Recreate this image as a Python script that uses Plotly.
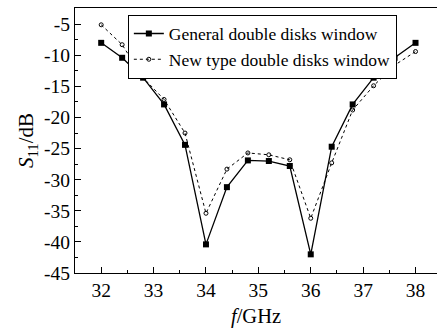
import plotly.graph_objects as go

freq = [32.0, 32.4, 32.8, 33.2, 33.6, 34.0, 34.4, 34.8, 35.2, 35.6, 36.0, 36.4, 36.8, 37.2, 37.6, 38.0]
general = [-8.0, -10.4, -13.6, -17.9, -24.4, -40.4, -31.2, -26.9, -27.0, -27.8, -42.0, -24.7, -17.9, -13.6, -10.4, -8.0]
new_type = [-5.1, -8.3, -13.6, -17.1, -22.5, -35.4, -28.3, -25.7, -26.0, -26.8, -36.2, -27.3, -18.8, -14.9, -11.6, -9.4]

x_ticks = [32, 33, 34, 35, 36, 37, 38]
y_ticks = [-5, -10, -15, -20, -25, -30, -35, -40, -45]
y_ticktext = ["-5", "-10", "-15", "-20", "-25", "-30", "-35", "-40", "-45"]

font = "Liberation Serif, Times New Roman, serif"

fig = go.Figure()
fig.add_trace(go.Scatter(
    x=freq, y=general, mode="lines+markers",
    name="General double disks window",
    line=dict(color="black", width=1.3),
    marker=dict(symbol="square", size=6, color="black"),
))
fig.add_trace(go.Scatter(
    x=freq, y=new_type, mode="lines+markers",
    name="New type double disks window",
    line=dict(color="black", width=1, dash="dot"),
    marker=dict(symbol="circle-open", size=4, color="black", line=dict(width=1)),
))

fig.update_layout(
    width=437, height=329,
    margin=dict(l=75, r=0, t=8, b=56),
    paper_bgcolor="white", plot_bgcolor="white",
    font=dict(family=font, size=19.5, color="black"),
    showlegend=True,
    legend=dict(
        x=0.146, y=0.975, xanchor="left", yanchor="top",
        bgcolor="white", bordercolor="black", borderwidth=1,
        font=dict(size=17.5), tracegroupgap=0, itemwidth=30,
    ),
)
fig.update_xaxes(
    range=[31.5, 38.41], tickvals=x_ticks,
    showline=True, linecolor="black", linewidth=1, mirror=True,
    ticks="inside", ticklen=6, tickcolor="black",
    minor=dict(dtick=0.5, ticks="inside", ticklen=3, tickcolor="black"),
    showgrid=False, zeroline=False,
    title=dict(text="<i>f</i>/GHz", standoff=8, font=dict(size=20.5)),
)
fig.update_yaxes(
    range=[-45, -2.4], tickvals=y_ticks, ticktext=y_ticktext,
    showline=True, linecolor="black", linewidth=1, mirror=False,
    ticks="inside", ticklen=6, tickcolor="black",
    minor=dict(dtick=2.5, ticks="inside", ticklen=3, tickcolor="black"),
    showgrid=False, zeroline=False,
    title=dict(text="<i>S</i><sub>11</sub>/dB", standoff=4, font=dict(size=21)),
)

fig.write_html("out.html")
